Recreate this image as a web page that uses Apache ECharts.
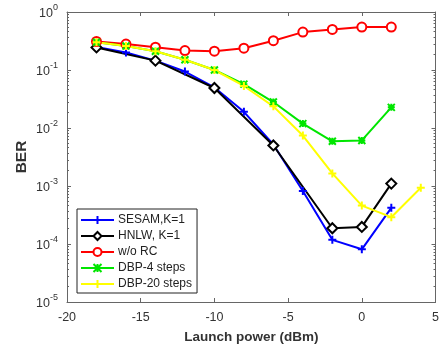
<!DOCTYPE html>
<html><head><meta charset="utf-8">
<script src="https://cdn.jsdelivr.net/npm/echarts@6/dist/echarts.min.js"></script>
<style>html,body{margin:0;padding:0;background:#fff}#c{width:442px;height:349px}</style>
</head><body><div id="c"></div>
<script>
const xTicks = [-20, -15, -10, -5, 0, 5];
const sesamX = [-18, -16, -14, -12, -10, -8, -6, -4, -2, 0, 2];
const sesamY = [0.25, 0.2, 0.145, 0.094, 0.05, 0.019, 0.0052, 8.2e-4, 1.18e-4, 8.1e-5, 4.2e-4];
const hnlwX = [-18, -14, -10, -6, -2, 0, 2];
const hnlwY = [0.245, 0.145, 0.049, 0.005, 1.87e-4, 1.97e-4, 1.1e-3];
const worcX = [-18, -16, -14, -12, -10, -8, -6, -4, -2, 0, 2];
const worcY = [0.31, 0.28, 0.247, 0.216, 0.211, 0.238, 0.32, 0.45, 0.5, 0.55, 0.55];
const dbp4X = [-18, -16, -14, -12, -10, -8, -6, -4, -2, 0, 2];
const dbp4Y = [0.3, 0.26, 0.21, 0.15, 0.1, 0.057, 0.028, 0.0119, 0.0059, 0.0061, 0.0227];
const dbp20X = [-18, -16, -14, -12, -10, -8, -6, -4, -2, 0, 2, 4];
const dbp20Y = [0.3, 0.26, 0.21, 0.15, 0.1, 0.053, 0.0236, 0.0074, 1.65e-3, 4.6e-4, 2.9e-4, 9.3e-4];

const zip = (xs, ys) => xs.map((x, i) => [x, ys[i]]);
const plus = 'path://M5,0 L5,10 M0,5 L10,5';
const cross = 'path://M0,0 L10,10 M10,0 L0,10 M5,0 L5,10 M0,5 L10,5';
const font = 'Arial, "Liberation Sans", sans-serif';
const axisCol = '#666';

function mk(name, xs, ys, color, symbol, size, fill) {
  return {
    name, type: 'line', data: zip(xs, ys), xAxisIndex: 0, yAxisIndex: 0,
    symbol, symbolSize: size, showSymbol: true,
    lineStyle: { color, width: 2 },
    itemStyle: { color: fill, borderColor: color, borderWidth: 2 },
    emphasis: { disabled: true }, animation: false, z: 3
  };
}
const series = [
  mk('SESAM,K=1', sesamX, sesamY, '#0000ff', plus, 8, '#0000ff'),
  mk('HNLW, K=1', hnlwX, hnlwY, '#000000', 'diamond', 10, '#ffffff'),
  mk('w/o RC', worcX, worcY, '#ff0000', 'circle', 9, '#ffffff'),
  mk('DBP-4 steps', dbp4X, dbp4Y, '#00e600', cross, 7, '#00e600'),
  mk('DBP-20 steps', dbp20X, dbp20Y, '#ffff00', plus, 8, '#ffff00')
];
const supFmt = v => {
  const e = Math.round(Math.log10(v));
  return '{b|10}{s|' + e + '}';
};
const chart = echarts.init(document.getElementById('c'), null, { renderer: 'canvas' });
chart.setOption({
  backgroundColor: '#fff',
  animation: false,
  grid: { left: 67, right: 4, top: 12, bottom: 46 },
  legend: {
    orient: 'vertical', left: 77, top: 209,
    itemWidth: 33, itemHeight: 10, itemGap: 0,
    padding: [3, 5, 1, 3],
    borderColor: '#222', borderWidth: 1, backgroundColor: '#fff',
    textStyle: { fontFamily: font, fontSize: 12, color: '#222', lineHeight: 16, padding: [0, 0, 0, -1] },
    data: series.map(s => s.name)
  },
  xAxis: [{
    type: 'value', min: -20, max: 5, interval: 5,
    name: 'Launch power (dBm)', nameLocation: 'middle', nameGap: 28, nameMoveOverlap: false,
    nameTextStyle: { fontFamily: font, fontSize: 13.5, fontWeight: 'bold', color: '#333' },
    axisLine: { onZero: false, lineStyle: { color: axisCol } },
    axisTick: { inside: true, length: 4, lineStyle: { color: axisCol } },
    axisLabel: { fontFamily: font, fontSize: 12.5, color: '#333', margin: 9 },
    splitLine: { show: false }
  }, {
    type: 'value', min: -20, max: 5, interval: 5, position: 'top',
    axisLine: { onZero: false, lineStyle: { color: axisCol } },
    axisTick: { inside: true, length: 4, lineStyle: { color: axisCol } },
    axisLabel: { show: false }, splitLine: { show: false }
  }],
  yAxis: [{
    type: 'log', min: 1e-5, max: 1, logBase: 10,
    name: 'BER', nameLocation: 'middle', nameGap: 37, nameMoveOverlap: false,
    nameTextStyle: { fontFamily: font, fontSize: 15.5, fontWeight: 'bold', color: '#333' },
    axisLine: { onZero: false, lineStyle: { color: axisCol } },
    axisTick: { inside: true, length: 4, lineStyle: { color: axisCol } },
    minorTick: { show: true, splitNumber: 10, length: 2, lineStyle: { color: axisCol } },
    axisLabel: {
      formatter: supFmt, margin: 9,
      rich: {
        b: { fontFamily: font, fontSize: 12.5, color: '#333', padding: [4, 0, 0, 0] },
        s: { fontFamily: font, fontSize: 9, color: '#333', verticalAlign: 'top', padding: [0, 0, 6, 0] }
      }
    },
    splitLine: { show: false }
  }, {
    type: 'log', min: 1e-5, max: 1, logBase: 10, position: 'right',
    axisLine: { onZero: false, lineStyle: { color: axisCol } },
    axisTick: { inside: true, length: 4, lineStyle: { color: axisCol } },
    minorTick: { show: true, splitNumber: 10, length: 2, lineStyle: { color: axisCol } },
    axisLabel: { show: false }, splitLine: { show: false }
  }],
  series
});
</script></body></html>
